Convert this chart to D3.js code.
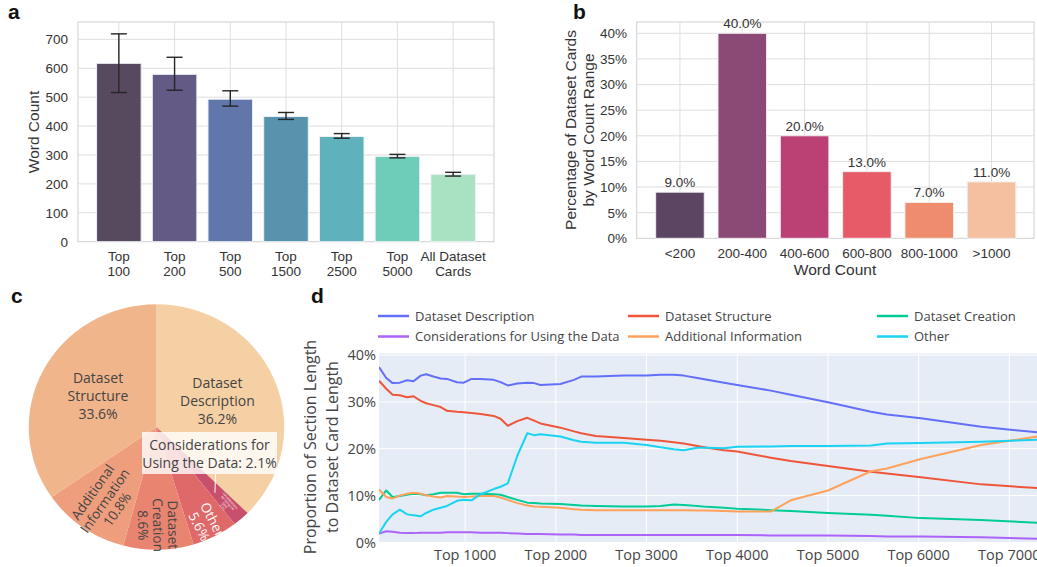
<!DOCTYPE html>
<meta charset="utf-8">
<script src="https://d3js.org/d3.v7.min.js"></script>
<style>
  body { margin: 0; background: #fff; }
  .ab { font-family: "Liberation Sans", Arial, sans-serif; fill: #333; }
  .cd { font-family: "Open Sans", sans-serif; fill: #444; }
  .tag { font-family: "Liberation Sans", Arial, sans-serif; font-weight: bold; font-size: 21px; fill: #111; }
</style>
<body>
<script>
// ---- panel a: word count by popularity group
var aCats = ["Top 100", "Top 200", "Top 500", "Top 1500", "Top 2500", "Top 5000", "All Dataset Cards"];
var aTickLines = [["Top", "100"], ["Top", "200"], ["Top", "500"], ["Top", "1500"], ["Top", "2500"], ["Top", "5000"], ["All Dataset", "Cards"]];
var aMean = [617, 579, 493, 433, 364, 295, 233];
var aLow = [516, 524, 469, 423, 358, 290, 227];
var aHigh = [719, 638, 522, 447, 374, 302, 240];
var aColors = ["#574a5f", "#645a86", "#6176aa", "#5893ad", "#5fb1bb", "#6dcdb8", "#a9e2c3"];
var aTicks = [0, 100, 200, 300, 400, 500, 600, 700];

// ---- panel b: share of cards by word count range
var bCats = ["<200", "200-400", "400-600", "600-800", "800-1000", ">1000"];
var bVals = [9, 40, 20, 13, 7, 11];
var bColors = ["#5c4563", "#8a4a75", "#bb4074", "#e65b67", "#f08c6e", "#f5c09f"];
var bTicks = [0, 5, 10, 15, 20, 25, 30, 35, 40];

// ---- panel c: section share pie
var pieNames = ["Dataset Description", "Considerations for Using the Data", "Other", "Dataset Creation", "Additional Information", "Dataset Structure"];
var pieVals = [36.2, 2.1, 5.6, 8.6, 10.8, 33.6];
var pieColors = ["#f5d0a5", "#c9506c", "#df6869", "#e8846f", "#ee9e7d", "#f1b58b"];

// ---- panel d: section proportion vs. top N
var dRanks = [50, 130, 200, 280, 360, 430, 510, 570, 650, 730, 800, 910, 985, 1070, 1170, 1315, 1390, 1470, 1575, 1685,
  1760, 1830, 2050, 2200, 2280, 2440, 2750, 3000, 3155, 3300, 3410, 3560, 3670, 3855, 4000, 4370, 4590, 5000, 5475, 5650,
  6025, 6690, 7310];
var descVals = [37.4, 35.1, 34.0, 34.1, 34.6, 34.4, 35.6, 35.9, 35.4, 35.0, 34.9, 34.2, 34.1, 34.9, 34.9, 34.7, 34.2, 33.5, 33.9, 34.1,
  34.0, 33.6, 33.8, 34.7, 35.4, 35.4, 35.6, 35.6, 35.8, 35.8, 35.6, 35.1, 34.7, 34.1, 33.6, 32.4, 31.5, 29.9, 27.9, 27.3,
  26.5, 24.7, 23.5];
var structVals = [34.5, 32.8, 31.5, 31.4, 31.0, 31.2, 30.2, 29.7, 29.3, 28.9, 28.1, 27.9, 27.8, 27.6, 27.4, 27.0, 26.4, 24.9, 25.9, 26.6,
  26.0, 25.4, 24.5, 23.7, 23.3, 22.7, 22.3, 21.9, 21.7, 21.4, 21.1, 20.6, 20.2, 19.7, 19.4, 18.1, 17.4, 16.3, 15.1, 14.7,
  13.9, 12.4, 11.6];
var creationVals = [9.1, 11.1, 9.7, 9.9, 10.2, 10.4, 10.3, 10.1, 10.3, 10.6, 10.6, 10.6, 10.3, 10.4, 10.4, 10.3, 10.2, 9.7, 9.1, 8.5,
  8.4, 8.3, 8.2, 8.0, 7.9, 7.8, 7.7, 7.7, 7.8, 8.1, 8.0, 7.8, 7.6, 7.4, 7.2, 6.9, 6.7, 6.3, 5.9, 5.7,
  5.2, 4.8, 4.2];
var consVals = [1.9, 2.4, 2.3, 2.1, 2.0, 2.0, 2.1, 2.1, 2.1, 2.1, 2.2, 2.2, 2.2, 2.2, 2.1, 2.1, 2.1, 2.0, 1.9, 1.8,
  1.8, 1.8, 1.7, 1.7, 1.6, 1.6, 1.6, 1.6, 1.6, 1.6, 1.6, 1.6, 1.6, 1.6, 1.6, 1.5, 1.5, 1.5, 1.4, 1.3,
  1.3, 1.1, 0.8];
var addVals = [11.3, 9.7, 9.4, 10.0, 10.4, 10.6, 10.4, 10.1, 9.8, 9.6, 9.9, 9.8, 9.7, 9.8, 9.9, 9.9, 9.6, 9.1, 8.4, 7.9,
  7.7, 7.6, 7.4, 7.1, 7.0, 6.9, 6.9, 6.9, 6.9, 6.9, 6.9, 6.8, 6.8, 6.7, 6.6, 6.6, 9.0, 11.1, 15.2, 15.8,
  17.8, 20.8, 22.6];
var otherVals = [1.9, 4.4, 6.0, 7.0, 6.0, 5.8, 5.6, 6.3, 7.0, 7.4, 7.8, 8.9, 9.1, 9.0, 10.3, 11.4, 11.9, 12.6, 18.5, 23.3,
  22.9, 23.1, 22.6, 21.8, 21.5, 21.3, 21.3, 20.8, 20.3, 19.9, 19.7, 20.2, 20.2, 20.1, 20.4, 20.5, 20.6, 20.6, 20.7, 21.1,
  21.2, 21.5, 21.9];
var dNames = ["Dataset Description", "Dataset Structure", "Dataset Creation", "Considerations for Using the Data", "Additional Information", "Other"];
var dColors = ["#636efa", "#EF553B", "#00cc96", "#ab63fa", "#FFA15A", "#19d3f3"];
var dXTicks = [1000, 2000, 3000, 4000, 5000, 6000, 7000];
var dYTicks = [0, 0.1, 0.2, 0.3, 0.4];

var svg = d3.select("body").append("svg")
    .attr("width", 1037)
    .attr("height", 567);

// ================= panel a =================
var aX = d3.scaleBand().domain(aCats).range([91, 481]).paddingInner(0.2).paddingOuter(0.1);
var aY = d3.scaleLinear().domain([0, 760]).range([241.7, 22]);
var ga = svg.append("g").attr("class", "ab");

ga.append("rect").attr("x", 78).attr("y", 22).attr("width", 416).attr("height", 219.7)
    .style("fill", "#fff").style("stroke", "#cfcfcf");
ga.selectAll(".hg").data(aTicks.slice(1)).enter().append("line")
    .attr("x1", 78).attr("x2", 494)
    .attr("y1", function(d) { return aY(d); }).attr("y2", function(d) { return aY(d); })
    .style("stroke", "#dedede");
ga.selectAll(".vg").data(aCats).enter().append("line")
    .attr("x1", function(d) { return aX(d) + aX.bandwidth() / 2; })
    .attr("x2", function(d) { return aX(d) + aX.bandwidth() / 2; })
    .attr("y1", 22).attr("y2", 241.7)
    .style("stroke", "#dedede");

ga.selectAll(".bar").data(aCats).enter().append("rect")
    .attr("x", function(d) { return aX(d); })
    .attr("width", aX.bandwidth())
    .attr("y", function(d, i) { return aY(aMean[i]); })
    .attr("height", function(d, i) { return aY(0) - aY(aMean[i]); })
    .style("fill", function(d, i) { return aColors[i]; })
    .style("stroke", "#eef0f5").style("stroke-width", 1);

var err = ga.selectAll(".err").data(aCats).enter().append("g")
    .attr("transform", function(d) { return "translate(" + (aX(d) + aX.bandwidth() / 2) + ",0)"; })
    .style("stroke", "#262626").style("stroke-width", 1.4);
err.append("line").attr("y1", function(d, i) { return aY(aLow[i]); }).attr("y2", function(d, i) { return aY(aHigh[i]); });
err.append("line").attr("x1", -8).attr("x2", 8)
    .attr("y1", function(d, i) { return aY(aLow[i]); }).attr("y2", function(d, i) { return aY(aLow[i]); });
err.append("line").attr("x1", -8).attr("x2", 8)
    .attr("y1", function(d, i) { return aY(aHigh[i]); }).attr("y2", function(d, i) { return aY(aHigh[i]); });

var aAxis = ga.append("g").attr("transform", "translate(78,0)")
    .call(d3.axisLeft(aY).tickValues(aTicks).tickSize(0).tickPadding(10));
aAxis.select(".domain").remove();
aAxis.selectAll("text").style("font-size", "13.5px").style("fill", "#333")
    .style("font-family", "Liberation Sans, Arial, sans-serif");

var aLab = ga.selectAll(".xl").data(aCats).enter().append("text")
    .attr("text-anchor", "middle").style("font-size", "13.5px");
aLab.append("tspan").attr("x", function(d) { return aX(d) + aX.bandwidth() / 2; }).attr("y", 261)
    .text(function(d, i) { return aTickLines[i][0]; });
aLab.append("tspan").attr("x", function(d) { return aX(d) + aX.bandwidth() / 2; }).attr("y", 275.5)
    .text(function(d, i) { return aTickLines[i][1]; });

ga.append("text").attr("transform", "translate(38.5,132) rotate(-90)")
    .attr("text-anchor", "middle").style("font-size", "15.5px").text("Word Count");

// ================= panel b =================
var bX = d3.scaleBand().domain(bCats).range([648.8, 1022.7]).paddingInner(0.22).paddingOuter(0.11);
var bY = d3.scaleLinear().domain([0, 42.2]).range([238.3, 22]);
var gb = svg.append("g").attr("class", "ab");

gb.append("rect").attr("x", 636.7).attr("y", 22).attr("width", 397.3).attr("height", 216.3)
    .style("fill", "#fff").style("stroke", "#cfcfcf");
gb.selectAll(".hg").data(bTicks.slice(1)).enter().append("line")
    .attr("x1", 636.7).attr("x2", 1034)
    .attr("y1", function(d) { return bY(d); }).attr("y2", function(d) { return bY(d); })
    .style("stroke", "#dedede");
gb.selectAll(".vg").data(bCats).enter().append("line")
    .attr("x1", function(d) { return bX(d) + bX.bandwidth() / 2; })
    .attr("x2", function(d) { return bX(d) + bX.bandwidth() / 2; })
    .attr("y1", 22).attr("y2", 238.3)
    .style("stroke", "#dedede");

gb.selectAll(".bar").data(bCats).enter().append("rect")
    .attr("x", function(d) { return bX(d); })
    .attr("width", bX.bandwidth())
    .attr("y", function(d, i) { return bY(bVals[i]); })
    .attr("height", function(d, i) { return bY(0) - bY(bVals[i]); })
    .style("fill", function(d, i) { return bColors[i]; })
    .style("stroke", "#f2eef0").style("stroke-width", 1);

gb.selectAll(".vl").data(bCats).enter().append("text")
    .attr("x", function(d) { return bX(d) + bX.bandwidth() / 2; })
    .attr("y", function(d, i) { return bY(bVals[i]) - 5; })
    .attr("text-anchor", "middle").style("font-size", "13.5px")
    .text(function(d, i) { return bVals[i].toFixed(1) + "%"; });

var bAxis = gb.append("g").attr("transform", "translate(636.7,0)")
    .call(d3.axisLeft(bY).tickValues(bTicks).tickSize(0).tickPadding(9.7).tickFormat(function(d) { return d + "%"; }));
bAxis.select(".domain").remove();
bAxis.selectAll("text").style("font-size", "13.5px").style("fill", "#333")
    .style("font-family", "Liberation Sans, Arial, sans-serif");

gb.selectAll(".xl").data(bCats).enter().append("text")
    .attr("x", function(d) { return bX(d) + bX.bandwidth() / 2; }).attr("y", 258)
    .attr("text-anchor", "middle").style("font-size", "13.5px")
    .text(function(d) { return d; });
gb.append("text").attr("x", 835).attr("y", 274.5).attr("text-anchor", "middle")
    .style("font-size", "15.5px").text("Word Count");
gb.append("text").attr("transform", "translate(575.5,130) rotate(-90)")
    .attr("text-anchor", "middle").style("font-size", "15.5px").text("Percentage of Dataset Cards");
gb.append("text").attr("transform", "translate(593.5,130) rotate(-90)")
    .attr("text-anchor", "middle").style("font-size", "15.5px").text("by Word Count Range");

// ================= panel c =================
var pcx = 156.5, pcy = 427;
var gc = svg.append("g").attr("class", "cd").attr("transform", "translate(" + pcx + "," + pcy + ")");
var pie = d3.pie().sort(null).value(function(d) { return d; });
var arcs = pie(pieVals);
var arc = d3.arc().innerRadius(0).outerRadius(124);

gc.append("g").attr("transform", "scale(1.03,0.99)")
  .selectAll("path").data(arcs).enter().append("path")
    .attr("d", arc)
    .style("fill", function(d, i) { return pieColors[i]; });

function polar(a, r) { return [Math.sin(a) * r, -Math.cos(a) * r]; }

// horizontal labels for the two big slices
[[0, ["Dataset", "Description", "36.2%"]], [5, ["Dataset", "Structure", "33.6%"]]].forEach(function(item) {
  var a = arcs[item[0]];
  var p = polar((a.startAngle + a.endAngle) / 2, 66);
  var t = gc.append("text").attr("text-anchor", "middle").style("font-size", "14px");
  item[1].forEach(function(s, k) {
    t.append("tspan").attr("x", p[0]).attr("y", p[1] - 18 + k * 18 + 5).text(s);
  });
});

// radial labels for the small slices
[[4, ["Additional", "Information", "10.8%"], 90, "#444"],
 [3, ["Dataset", "Creation", "8.6%"], 98, "#444"],
 [2, ["Other", "5.6%"], 108, "#fff"]].forEach(function(item) {
  var a = arcs[item[0]];
  var mid = (a.startAngle + a.endAngle) / 2;
  var p = polar(mid, item[2]);
  var rot = mid * 180 / Math.PI - 90;
  if (rot > 90) rot -= 180;
  var n = item[1].length;
  var t = gc.append("text").attr("text-anchor", "middle")
      .attr("transform", "translate(" + p[0] + "," + p[1] + ") rotate(" + rot + ")")
      .style("font-size", "13.5px").style("fill", item[3]);
  item[1].forEach(function(s, k) {
    t.append("tspan").attr("x", 0).attr("y", (k - (n - 1) / 2) * 15 + 5).text(s);
  });
});

// tiny label inside the considerations slice + call-out box
(function() {
  var a = arcs[1];
  var mid = (a.startAngle + a.endAngle) / 2;
  var p = polar(mid, 104);
  var t = gc.append("text").attr("text-anchor", "middle")
      .attr("transform", "translate(" + p[0] + "," + p[1] + ") rotate(" + (mid * 180 / Math.PI - 90) + ")")
      .style("font-size", "3px").style("fill", "#fff");
  ["Considerations", "for Using the", "Data", "2.1%"].forEach(function(s, k) {
    t.append("tspan").attr("x", 0).attr("y", (k - 1.5) * 3.4).text(s);
  });
  var q = polar(mid, 88);
  gc.append("line").attr("x1", 59).attr("y1", 47).attr("x2", q[0]).attr("y2", q[1])
      .style("stroke", "#fff").style("stroke-width", 1);
  gc.append("rect").attr("x", -14.5).attr("y", 5).attr("width", 135).attr("height", 42)
      .style("fill", "#fff").style("fill-opacity", 0.8);
  var bt = gc.append("text").attr("text-anchor", "middle").style("font-size", "14px");
  bt.append("tspan").attr("x", 53).attr("y", 23).text("Considerations for");
  bt.append("tspan").attr("x", 53).attr("y", 41).text("Using the Data: " + pieVals[1] + "%");
})();

// ================= panel d =================
var dX = d3.scaleLinear().domain([50, 7500]).range([379, 1054.7]);
var dY = d3.scaleLinear().domain([0, 0.4036]).range([542.5, 353.3]);
var gd = svg.append("g").attr("class", "cd");

gd.append("clipPath").attr("id", "dclip").append("rect")
    .attr("x", 379).attr("y", 353.3).attr("width", 700).attr("height", 189.2);
gd.append("rect").attr("x", 379).attr("y", 353.3).attr("width", 700).attr("height", 189.2)
    .style("fill", "#e5ecf6");
gd.selectAll(".hg").data(dYTicks).enter().append("line")
    .attr("x1", 379).attr("x2", 1037)
    .attr("y1", function(d) { return dY(d); }).attr("y2", function(d) { return dY(d); })
    .style("stroke", "#fff").style("stroke-width", 1);
gd.selectAll(".vg").data(dXTicks).enter().append("line")
    .attr("x1", function(d) { return dX(d); }).attr("x2", function(d) { return dX(d); })
    .attr("y1", 353.3).attr("y2", 542.5)
    .style("stroke", "#fff").style("stroke-width", 1);

var dSeries = [descVals, structVals, creationVals, consVals, addVals, otherVals];
var line = d3.line()
    .x(function(d, i) { return dX(dRanks[i]); })
    .y(function(d) { return dY(d / 100); });
// draw order as in the figure (first trace at the bottom)
gd.append("g").attr("clip-path", "url(#dclip)")
  .selectAll("path").data(dSeries).enter().append("path")
    .attr("d", line)
    .style("fill", "none")
    .style("stroke", function(d, i) { return dColors[i]; })
    .style("stroke-width", 2)
    .style("stroke-linejoin", "round");

gd.selectAll(".yl").data(dYTicks).enter().append("text")
    .attr("x", 376).attr("y", function(d) { return dY(d); }).attr("dy", "0.36em")
    .attr("text-anchor", "end").style("font-size", "14.5px")
    .text(function(d) { return Math.round(d * 100) + "%"; });
gd.selectAll(".xl").data(dXTicks).enter().append("text")
    .attr("x", function(d) { return dX(d); }).attr("y", 560)
    .attr("text-anchor", "middle").style("font-size", "14.5px")
    .text(function(d) { return "Top " + d; });

gd.append("text").attr("transform", "translate(316,447) rotate(-90)")
    .attr("text-anchor", "middle").style("font-size", "16px").text("Proportion of Section Length");
gd.append("text").attr("transform", "translate(337.5,447) rotate(-90)")
    .attr("text-anchor", "middle").style("font-size", "16px").text("to Dataset Card Length");

var legX = [378, 628, 877], legY = [316, 336.5];
var leg = gd.selectAll(".leg").data(dNames).enter().append("g")
    .attr("transform", function(d, i) { return "translate(" + legX[i % 3] + "," + legY[Math.floor(i / 3)] + ")"; });
leg.append("line").attr("x1", 0).attr("x2", 31)
    .style("stroke", function(d, i) { return dColors[i]; }).style("stroke-width", 2.5);
leg.append("text").attr("x", 37).attr("dy", "0.36em").style("font-size", "13px")
    .text(function(d) { return d; });

// panel letters
svg.append("text").attr("class", "tag").attr("x", 8).attr("y", 19).text("a");
svg.append("text").attr("class", "tag").attr("x", 573).attr("y", 19).text("b");
svg.append("text").attr("class", "tag").attr("x", 11).attr("y", 303).text("c");
svg.append("text").attr("class", "tag").attr("x", 311).attr("y", 303).text("d");
</script>
</body>
</html>
